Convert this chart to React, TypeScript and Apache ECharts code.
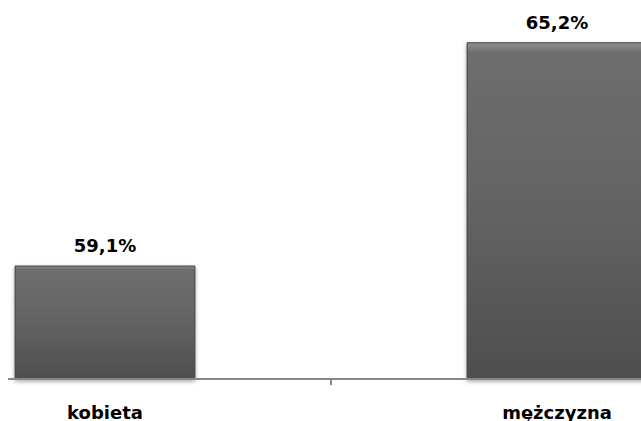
import React, { useEffect, useRef } from "react";
import * as echarts from "echarts";

const categories = ["kobieta", "mężczyzna"];
const values = [59.1, 65.2];

const OFFSET = 200;

export default function App() {
  const ref = useRef<HTMLDivElement>(null);
  useEffect(() => {
    if (!ref.current) return;
    const chart = echarts.init(ref.current, undefined, { renderer: "svg" });
    chart.setOption({
      animation: false,
      backgroundColor: "#ffffff",
      grid: { left: OFFSET - 121, width: 904, top: 13, bottom: 42 },
      xAxis: {
        type: "category",
        data: categories,
        z: 5,
        axisLine: { show: true, lineStyle: { color: "#878787", width: 2 } },
        axisTick: { show: true, length: 6, lineStyle: { color: "#878787", width: 2 } },
        axisLabel: {
          margin: 24,
          color: "#000",
          fontFamily: "DejaVu Sans",
          fontWeight: "bold",
          fontSize: 18,
        },
      },
      yAxis: {
        type: "value",
        min: 56,
        max: 66,
        show: false,
        splitLine: { show: false },
      },
      series: [
        {
          type: "bar",
          data: values,
          barWidth: "40%",
          itemStyle: {
            color: new echarts.graphic.LinearGradient(0, 0, 0, 1, [
              { offset: 0, color: "#8e8e8e" },
              { offset: 0.03, color: "#6e6e6e" },
              { offset: 0.5, color: "#636363" },
              { offset: 1, color: "#4e4e4e" },
            ]),
            borderColor: "#3f3f3f",
            borderWidth: 1,
            shadowBlur: 4,
            shadowColor: "rgba(0,0,0,0.35)",
            shadowOffsetY: 2,
          },
          label: {
            show: true,
            position: "top",
            distance: 11,
            formatter: (p: any) => p.value.toFixed(1).replace(".", ",") + "%",
            color: "#000",
            fontFamily: "DejaVu Sans",
            fontWeight: "bold",
            fontSize: 18,
          },
        },
      ],
      graphic: [
        {
          type: "rect",
          shape: { x: 0, y: 370, width: OFFSET + 8, height: 15 },
          style: { fill: "#ffffff" },
          z: 100,
        },
      ],
    });
    return () => chart.dispose();
  }, []);
  return (
    <div
      style={{
        position: "fixed",
        left: 0,
        top: 0,
        width: 641,
        height: 421,
        overflow: "hidden",
        background: "#fff",
      }}
    >
      <div
        ref={ref}
        style={{ position: "absolute", left: -OFFSET, top: 0, width: 641 + 2 * OFFSET, height: 421 }}
      />
    </div>
  );
}
